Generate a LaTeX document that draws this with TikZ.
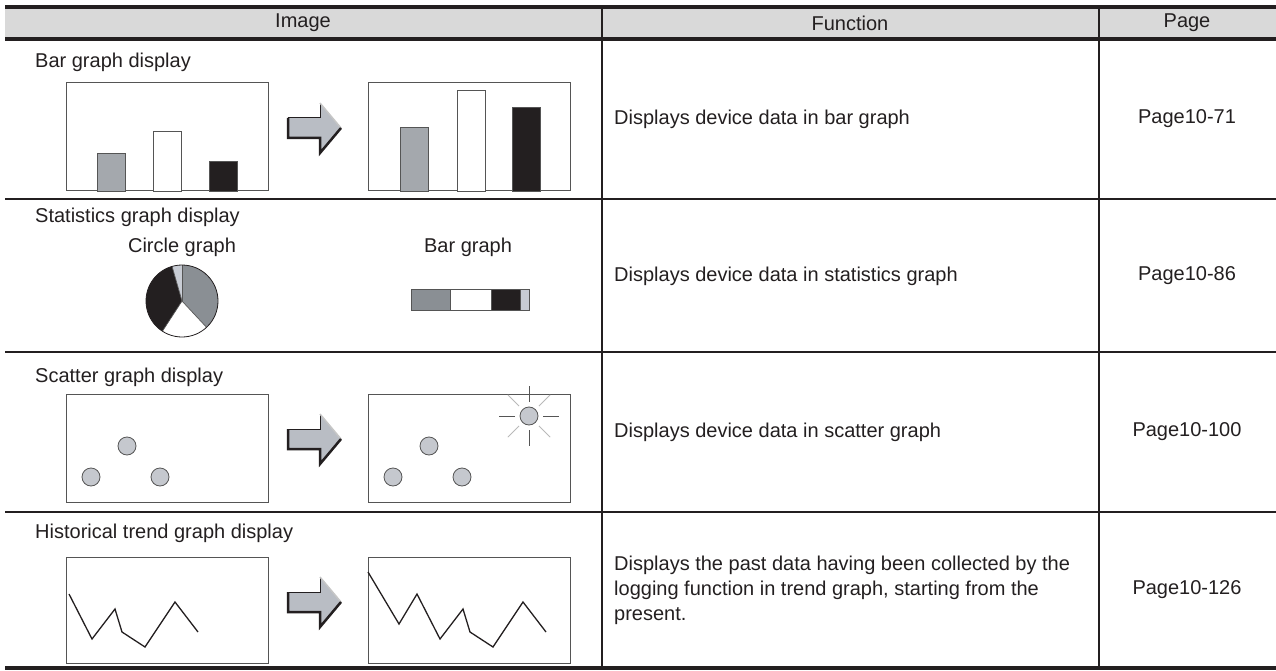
\documentclass[tikz,border=0pt]{standalone}
\usepackage{fontspec}
\setmainfont{Liberation Sans}
\usetikzlibrary{positioning}
\definecolor{inkblack}{HTML}{231F20}
\definecolor{hdrfill}{HTML}{D9D9D9}
\definecolor{boxline}{HTML}{555555}
\definecolor{bargray}{HTML}{A4A8AD}
\definecolor{piegray}{HTML}{8A8F94}
\definecolor{lightslate}{HTML}{C8CCD4}
\definecolor{dotfill}{HTML}{C5C8CE}
\definecolor{arrowfill}{HTML}{B9BDC4}
\tikzset{
    txt/.style = {inner sep=0pt, text=inkblack, font=\fontsize{20}{25}\selectfont},
    title/.style = {txt, anchor=west},
    func/.style = {txt, anchor=west, align=left},
    thickrule/.style = {line width=3.5pt, inkblack},
    rowrule/.style = {line width=2pt, inkblack},
    screen/.style = {draw=boxline, line width=1pt},
    bar/.style = {draw=boxline, line width=0.8pt},
    dot/.style = {draw=boxline, fill=dotfill, line width=0.8pt},
    trend/.style = {line width=1.3pt, inkblack},
    raydark/.style = {line width=0.8pt, boxline},
    raylight/.style = {line width=0.8pt, gray!55},
    nextarrow/.pic = {
        \fill[arrowfill] (0,-10) -- (32,-10) -- (32,-25) -- (53,0) -- (32,25) -- (32,10) -- (0,10) -- cycle;
        \draw[line width=1pt, inkblack] (0,-10) -- (32,-10) -- (32,-25);
        \draw[line width=1.5pt, gray!45] (32,-25) -- (53,0);
        \draw[line width=2.5pt, inkblack, line join=miter] (0,-10) -- (0,10) -- (32,10) -- (32,25) -- (53,0);
    }
}

\begin{document}
\begin{tikzpicture}[x=1pt, y=-1pt]
\useasboundingbox (0,0) rectangle (1276,671);
% table frame
\fill[hdrfill] (5,7) rectangle (1276,39);
\draw[thickrule] (5,7) -- (1276,7);
\draw[thickrule] (5,39) -- (1276,39);
\draw[rowrule] (5,199) -- (1276,199);
\draw[rowrule] (5,352) -- (1276,352);
\draw[rowrule] (5,512) -- (1276,512);
\draw[thickrule] (5,668) -- (1276,668);
\draw[rowrule] (602,7) -- (602,668);
\draw[rowrule] (1099,7) -- (1099,668);
\node[txt] at (303,23) (hImage) {Image};
\node[txt] at (850,23) (hFunction) {Function};
\node[txt] at (1187,23) (hPage) {Page};
%
% bar graph display
\node[title] at (35,62) (tBar) {Bar graph display};
\draw[screen] (66,83) rectangle (268,191);
\draw[bar, fill=bargray] (97,191) rectangle (125,153);
\draw[bar, fill=white] (153,191) rectangle (181,131);
\draw[bar, fill=inkblack] (209,191) rectangle (237,161);
\pic at (288,128) {nextarrow};
\draw[screen] (368,83) rectangle (570,191);
\draw[bar, fill=bargray] (400,191) rectangle (428,127);
\draw[bar, fill=white] (457,191) rectangle (485,90);
\draw[bar, fill=inkblack] (512,191) rectangle (540,107);
\node[func] at (614,119) (fBar) {Displays device data in bar graph};
\node[txt] at (1187,119) (pBar) {Page10-71};
%
% statistics graph display
\node[title] at (35,217) (tStat) {Statistics graph display};
\node[txt] at (182,247) (lCircle) {Circle graph};
\node[txt] at (468,247) (lBarg) {Bar graph};
\coordinate (pc) at (182,301);
\fill[piegray] (pc) -- ++(90:36pt) arc[start angle=90, end angle=-47, radius=36pt] -- cycle;
\fill[white] (pc) -- ++(-47:36pt) arc[start angle=-47, end angle=-123, radius=36pt] -- cycle;
\fill[inkblack] (pc) -- ++(-123:36pt) arc[start angle=-123, end angle=-254, radius=36pt] -- cycle;
\fill[lightslate] (pc) -- ++(106:36pt) arc[start angle=106, end angle=90, radius=36pt] -- cycle;
\foreach \a in {90,-47,-123,106}
    \draw[line width=0.7pt, boxline] (pc) -- ++(\a:36pt);
\draw[line width=0.8pt, inkblack] (pc) circle[radius=36pt];
\draw[bar, fill=piegray] (411,289) rectangle (450,310);
\draw[bar, fill=white] (450,289) rectangle (491,310);
\draw[bar, fill=inkblack] (491,289) rectangle (520,310);
\draw[bar, fill=lightslate] (520,289) rectangle (529,310);
\node[func] at (614,276) (fStat) {Displays device data in statistics graph};
\node[txt] at (1187,276) (pStat) {Page10-86};
%
% scatter graph display
\node[title] at (35,377) (tScatter) {Scatter graph display};
\draw[screen] (66,394) rectangle (268,502);
\foreach \x/\y in {91/477, 127/446, 160/477}
    \draw[dot] (\x,\y) circle[radius=9pt];
\pic at (288,439) {nextarrow};
\draw[screen] (368,394) rectangle (570,502);
\foreach \x/\y in {393/477, 429/446, 462/477}
    \draw[dot] (\x,\y) circle[radius=9pt];
\coordinate (hl) at (529,416);
\foreach \a in {0,90,180,270}
    \draw[raydark] (hl) ++(\a:14pt) -- ++(\a:16pt);
\foreach \a in {45,135,225,315}
    \draw[raylight] (hl) ++(\a:14pt) -- ++(\a:16pt);
\draw[dot] (hl) circle[radius=9pt];
\node[func] at (614,432) (fScatter) {Displays device data in scatter graph};
\node[txt] at (1187,432) (pScatter) {Page10-100};
%
% historical trend graph display
\node[title] at (35,533) (tTrend) {Historical trend graph display};
\draw[screen] (66,557) rectangle (268,663);
\draw[trend] (69,594) -- (92,639) -- (115,609) -- (122,632) -- (145,647) -- (175,602) -- (198,632);
\pic at (288,602) {nextarrow};
\draw[screen] (368,557) rectangle (570,663);
\draw[trend] (368,572) -- (399,624) -- (417,594) -- (440,639) -- (463,609) -- (470,632) -- (493,647) -- (523,602) -- (546,632);
\node[func] at (614,590) (fTrend) {Displays the past data having been collected by the\\logging function in trend graph, starting from the\\present.};
\node[txt] at (1187,590) (pTrend) {Page10-126};
\end{tikzpicture}
\end{document}
